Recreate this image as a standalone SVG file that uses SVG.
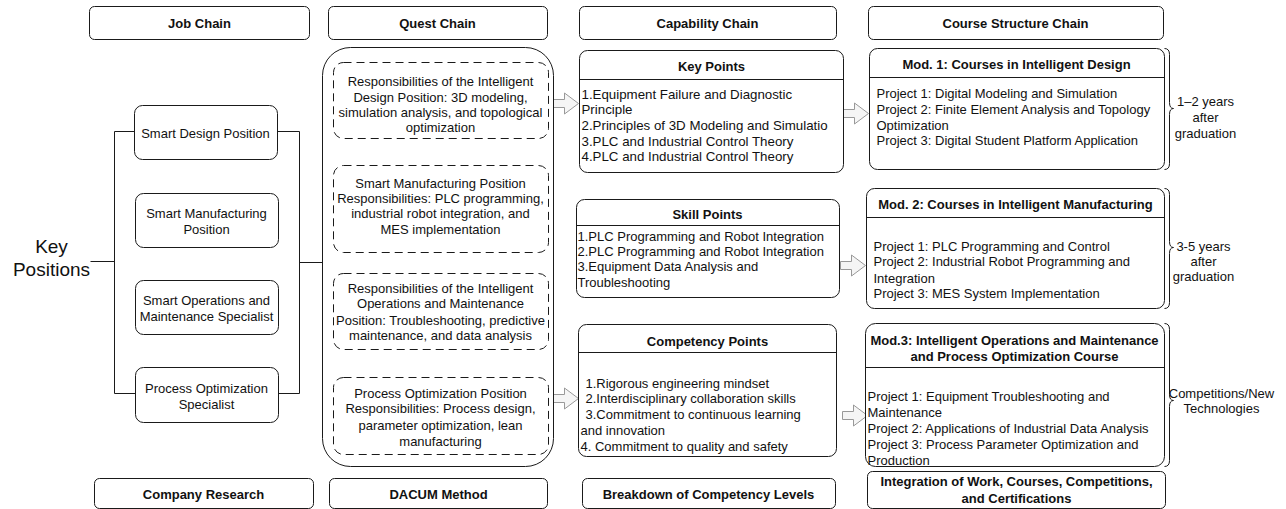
<svg xmlns="http://www.w3.org/2000/svg" width="1286" height="509" viewBox="0 0 1286 509">
<style>
text{font-family:"Liberation Sans",Arial,sans-serif;font-size:13px;fill:#111}
.b{font-weight:bold}
.c{text-anchor:middle}
.box{fill:#fff;stroke:#1a1a1a;stroke-width:1}
.dash{fill:#fff;stroke:#1a1a1a;stroke-width:1;stroke-dasharray:8 5}
.ln{fill:none;stroke:#1a1a1a;stroke-width:1}
.arr{fill:#f5f5f5;stroke:#999;stroke-width:1}
.big{font-size:19px}
.kp{font-size:13.3px}
</style>
<defs>
<path id="arrow" d="M0,-4 H11 V-10.5 L25,0 L11,10.5 V4 H0 Z"/>
</defs>
<rect width="1286" height="509" fill="#fff"/>
<g transform="translate(0.5 0.5)">

<!-- column headers -->
<g id="h-job"><rect class="box" x="89" y="6" width="220" height="33" rx="5"/><text class="b c" x="199" y="27">Job Chain</text></g>
<g id="h-quest"><rect class="box" x="328" y="6" width="219" height="33" rx="5"/><text class="b c" x="437" y="27">Quest Chain</text></g>
<g id="h-cap"><rect class="box" x="579" y="6" width="257" height="33" rx="5"/><text class="b c" x="707" y="27">Capability Chain</text></g>
<g id="h-course"><rect class="box" x="868" y="6" width="295" height="33" rx="5"/><text class="b c" x="1015" y="27">Course Structure Chain</text></g>

<!-- footers -->
<g id="f-company"><rect class="box" x="94" y="478" width="219" height="30" rx="5"/><text class="b c" x="203" y="498">Company Research</text></g>
<g id="f-dacum"><rect class="box" x="329" y="478" width="218" height="30" rx="5"/><text class="b c" x="438" y="498">DACUM Method</text></g>
<g id="f-breakdown"><rect class="box" x="582" y="478" width="253" height="30" rx="5"/><text class="b c" x="708" y="498">Breakdown of Competency Levels</text></g>
<g id="f-integration"><rect class="box" x="867" y="471" width="298" height="37" rx="5"/><text class="b c" x="1016" y="485">Integration of Work, Courses, Competitions,</text><text class="b c" x="1016" y="502">and Certifications</text></g>

<!-- connectors -->
<g id="connectors">
<path class="ln" d="M90,261 H114 M114,131 V393 M114,131 H134 M114,393 H135 M277,131 H299 M278,393 H299 M299,131 V393 M299,262 H322"/>
<use href="#arrow" class="arr" transform="translate(553,103)"/>
<use href="#arrow" class="arr" transform="translate(553,398)"/>
<use href="#arrow" class="arr" transform="translate(843,113)"/>
<use href="#arrow" class="arr" transform="translate(840,265)"/>
<use href="#arrow" class="arr" transform="translate(842,415)"/>
<path class="ln" d="M1164,48 Q1169,48 1169,54 V102 Q1169,108 1173,108 Q1169,108 1169,114 V163 Q1169,169 1164,169"/>
<path class="ln" d="M1164,188 Q1169,188 1169,194 V241 Q1169,247 1173,247 Q1169,247 1169,253 V302 Q1169,308 1164,308"/>
<path class="ln" d="M1164,323 Q1169,323 1169,329 V394 Q1169,400 1173,400 Q1169,400 1169,406 V460 Q1169,466 1164,466"/>
</g>

<!-- key positions -->
<g id="key-positions"><text class="c big" x="51" y="252">Key</text><text class="c big" x="51" y="275">Positions</text></g>

<!-- job chain nodes -->
<g id="n-design"><rect class="box" x="134" y="105" width="143" height="54" rx="8"/><text class="c" x="205" y="137">Smart Design Position</text></g>
<g id="n-manuf"><rect class="box" x="135" y="193" width="143" height="54" rx="8"/><text class="c" x="206" y="217">Smart Manufacturing</text><text class="c" x="206" y="233">Position</text></g>
<g id="n-ops"><rect class="box" x="135" y="280" width="143" height="54" rx="8"/><text class="c" x="206" y="304">Smart Operations and</text><text class="c" x="206" y="320">Maintenance Specialist</text></g>
<g id="n-process"><rect class="box" x="135" y="367" width="143" height="55" rx="8"/><text class="c" x="206" y="392">Process Optimization</text><text class="c" x="206" y="408">Specialist</text></g>

<!-- quest chain -->
<g id="quest-container"><rect class="box" x="322" y="47" width="231" height="419" rx="28"/></g>
<g id="q1"><rect class="dash" x="333" y="62" width="215" height="76" rx="10"/>
<text class="c" x="440" y="85">Responsibilities of the Intelligent</text>
<text class="c" x="440" y="101">Design Position: 3D modeling,</text>
<text class="c" x="440" y="116">simulation analysis, and topological</text>
<text class="c" x="440" y="131">optimization</text></g>
<g id="q2"><rect class="dash" x="333" y="165" width="215" height="87" rx="10"/>
<text class="c" x="440" y="187">Smart Manufacturing Position</text>
<text class="c" x="440" y="202">Responsibilities: PLC programming,</text>
<text class="c" x="440" y="217">industrial robot integration, and</text>
<text class="c" x="440" y="233">MES implementation</text></g>
<g id="q3"><rect class="dash" x="333" y="273" width="215" height="76" rx="10"/>
<text class="c" x="440" y="292">Responsibilities of the Intelligent</text>
<text class="c" x="440" y="307">Operations and Maintenance</text>
<text class="c" x="440" y="324">Position: Troubleshooting, predictive</text>
<text class="c" x="440" y="339">maintenance, and data analysis</text></g>
<g id="q4"><rect class="dash" x="333" y="377" width="215" height="77" rx="10"/>
<text class="c" x="440" y="397">Process Optimization Position</text>
<text class="c" x="440" y="412">Responsibilities: Process design,</text>
<text class="c" x="440" y="429">parameter optimization, lean</text>
<text class="c" x="440" y="445">manufacturing</text></g>

<!-- capability chain -->
<g id="key-points"><rect class="box" x="579" y="50" width="264" height="122" rx="8"/><path class="ln" d="M579,79 H843"/>
<text class="b c" x="711" y="70">Key Points</text>
<text class="kp" x="581" y="98">1.Equipment Failure and Diagnostic</text>
<text class="kp" x="581" y="113">Principle</text>
<text class="kp" x="581" y="129">2.Principles of 3D Modeling and Simulatio</text>
<text class="kp" x="581" y="145">3.PLC and Industrial Control Theory</text>
<text class="kp" x="581" y="160">4.PLC and Industrial Control Theory</text></g>
<g id="skill-points"><rect class="box" x="576" y="199" width="263" height="98" rx="8"/><path class="ln" d="M576,225 H839"/>
<text class="b c" x="707" y="218">Skill Points</text>
<text x="577" y="240">1.PLC Programming and Robot Integration</text>
<text x="577" y="255">2.PLC Programming and Robot Integration</text>
<text x="577" y="270">3.Equipment Data Analysis and</text>
<text x="577" y="286">Troubleshooting</text></g>
<g id="competency-points"><rect class="box" x="578" y="324" width="258" height="132" rx="8"/><path class="ln" d="M578,352 H836"/>
<text class="b c" x="707" y="345">Competency Points</text>
<text x="585" y="387">1.Rigorous engineering mindset</text>
<text x="585" y="402">2.Interdisciplinary collaboration skills</text>
<text x="585" y="418">3.Commitment to continuous learning</text>
<text x="580" y="434">and innovation</text>
<text x="580" y="450">4. Commitment to quality and safety</text></g>

<!-- course structure chain -->
<g id="mod1"><rect class="box" x="869" y="48" width="295" height="121" rx="8"/><path class="ln" d="M869,77 H1164"/>
<text class="b c" x="1016" y="68">Mod. 1: Courses in Intelligent Design</text>
<text x="876" y="97">Project 1: Digital Modeling and Simulation</text>
<text x="876" y="113">Project 2: Finite Element Analysis and Topology</text>
<text x="876" y="129">Optimization</text>
<text x="876" y="144">Project 3: Digital Student Platform Application</text></g>
<g id="mod2"><rect class="box" x="866" y="188" width="298" height="120" rx="8"/><path class="ln" d="M866,217 H1164"/>
<text class="b c" x="1015" y="208">Mod. 2: Courses in Intelligent Manufacturing</text>
<text x="873" y="250">Project 1: PLC Programming and Control</text>
<text x="873" y="265">Project 2: Industrial Robot Programming and</text>
<text x="873" y="282">Integration</text>
<text x="873" y="297">Project 3: MES System Implementation</text></g>
<g id="mod3"><rect class="box" x="865" y="323" width="299" height="143" rx="10"/><path class="ln" d="M865,367 H1164"/>
<text class="b c" x="1014" y="344">Mod.3: Intelligent Operations and Maintenance</text>
<text class="b c" x="1014" y="360">and Process Optimization Course</text>
<text x="867" y="400">Project 1: Equipment Troubleshooting and</text>
<text x="867" y="416">Maintenance</text>
<text x="867" y="432">Project 2: Applications of Industrial Data Analysis</text>
<text x="867" y="448">Project 3: Process Parameter Optimization and</text>
<text x="867" y="464">Production</text></g>

<!-- brace labels -->
<g id="label-1"><text class="c" x="1205" y="105">1–2 years</text><text class="c" x="1205" y="121">after</text><text class="c" x="1205" y="137">graduation</text></g>
<g id="label-2"><text class="c" x="1203" y="250">3-5 years</text><text class="c" x="1203" y="265">after</text><text class="c" x="1203" y="280">graduation</text></g>
<g id="label-3"><text class="c" x="1221" y="397">Competitions/New</text><text class="c" x="1221" y="412">Technologies</text></g>
</g>
</svg>
